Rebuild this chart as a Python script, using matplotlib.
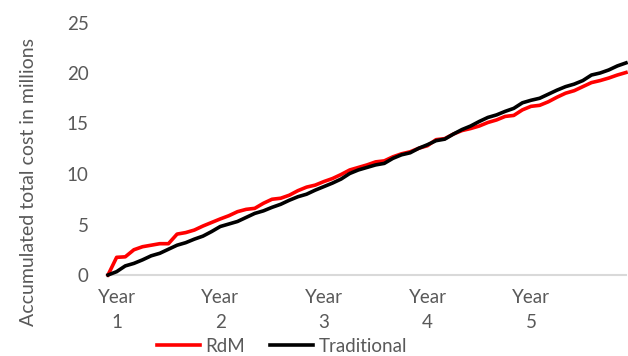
import matplotlib.pyplot as plt
import numpy as np

# monthly accumulated cost (millions), 61 points = month 0..60
rdm = [0, 1.75, 1.8, 2.5, 2.8, 2.95, 3.1, 3.1, 4.05, 4.2, 4.45, 4.85, 5.2,
       5.55, 5.87, 6.27, 6.5, 6.6, 7.1, 7.5, 7.6, 7.9, 8.35, 8.7, 8.9,
       9.25, 9.55, 9.95, 10.4, 10.65, 10.9, 11.2, 11.3, 11.7, 12.0, 12.2,
       12.55, 12.8, 13.4, 13.5, 13.95, 14.3, 14.5, 14.75, 15.1, 15.35,
       15.7, 15.8, 16.35, 16.7, 16.8, 17.15, 17.6, 18.0, 18.25, 18.65,
       19.05, 19.25, 19.5, 19.8, 20.05]
traditional = [0, 0.33, 0.9, 1.15, 1.5, 1.9, 2.15, 2.55, 2.95, 3.2, 3.55, 3.85,
               4.3, 4.8, 5.05, 5.3, 5.7, 6.1, 6.35, 6.7, 7.0, 7.4, 7.75, 8.0,
               8.4, 8.75, 9.1, 9.5, 10.05, 10.4, 10.65, 10.9, 11.05, 11.55,
               11.9, 12.1, 12.55, 12.9, 13.3, 13.45, 13.95, 14.4, 14.75, 15.2,
               15.6, 15.85, 16.2, 16.5, 17.05, 17.3, 17.5, 17.9, 18.3, 18.65,
               18.9, 19.25, 19.8, 20.0, 20.3, 20.7, 21.0]
year_pos = [1, 13, 25, 37, 49]
year_labels = ['Year\n1', 'Year\n2', 'Year\n3', 'Year\n4', 'Year\n5']

plt.rcParams['font.family'] = ['Lato', 'DejaVu Sans']
gray = '#595959'

fig = plt.figure(figsize=(6.28, 3.56), dpi=100)
ax = fig.add_axes([108/628, 1-275/356, 518/628, 252.5/356])

x = np.arange(len(rdm))
ax.plot(x, rdm, color='#FF0000', lw=2.6, label='RdM', solid_joinstyle='round', clip_on=False, zorder=3)
ax.plot(x, traditional, color='black', lw=2.6, label='Traditional', solid_joinstyle='round', clip_on=False, zorder=3)

ax.set_xlim(0, 60)
ax.set_ylim(0, 25)
ax.set_yticks([0, 5, 10, 15, 20, 25])
ax.set_xticks(year_pos, year_labels, linespacing=1.6)
ax.tick_params(axis='both', length=0, labelsize=13.5, colors=gray)
ax.tick_params(axis='x', pad=10)
ax.tick_params(axis='y', pad=14)
for s in ['top', 'right', 'left']:
    ax.spines[s].set_visible(False)
ax.spines['bottom'].set_color('#D9D9D9')
ax.spines['bottom'].set_linewidth(1.5)

ax.set_ylabel('Accumulated total cost in millions', fontsize=14, color=gray)
ax.yaxis.set_label_coords(-0.137, 0.37)

fig.legend(loc='center', bbox_to_anchor=(282/628, 1-346/356), ncol=2, frameon=False,
           fontsize=13.5, handlelength=2.3, columnspacing=1.3, handletextpad=0.3,
           labelcolor=gray, borderpad=0)

fig.savefig('out.png', dpi=100)
